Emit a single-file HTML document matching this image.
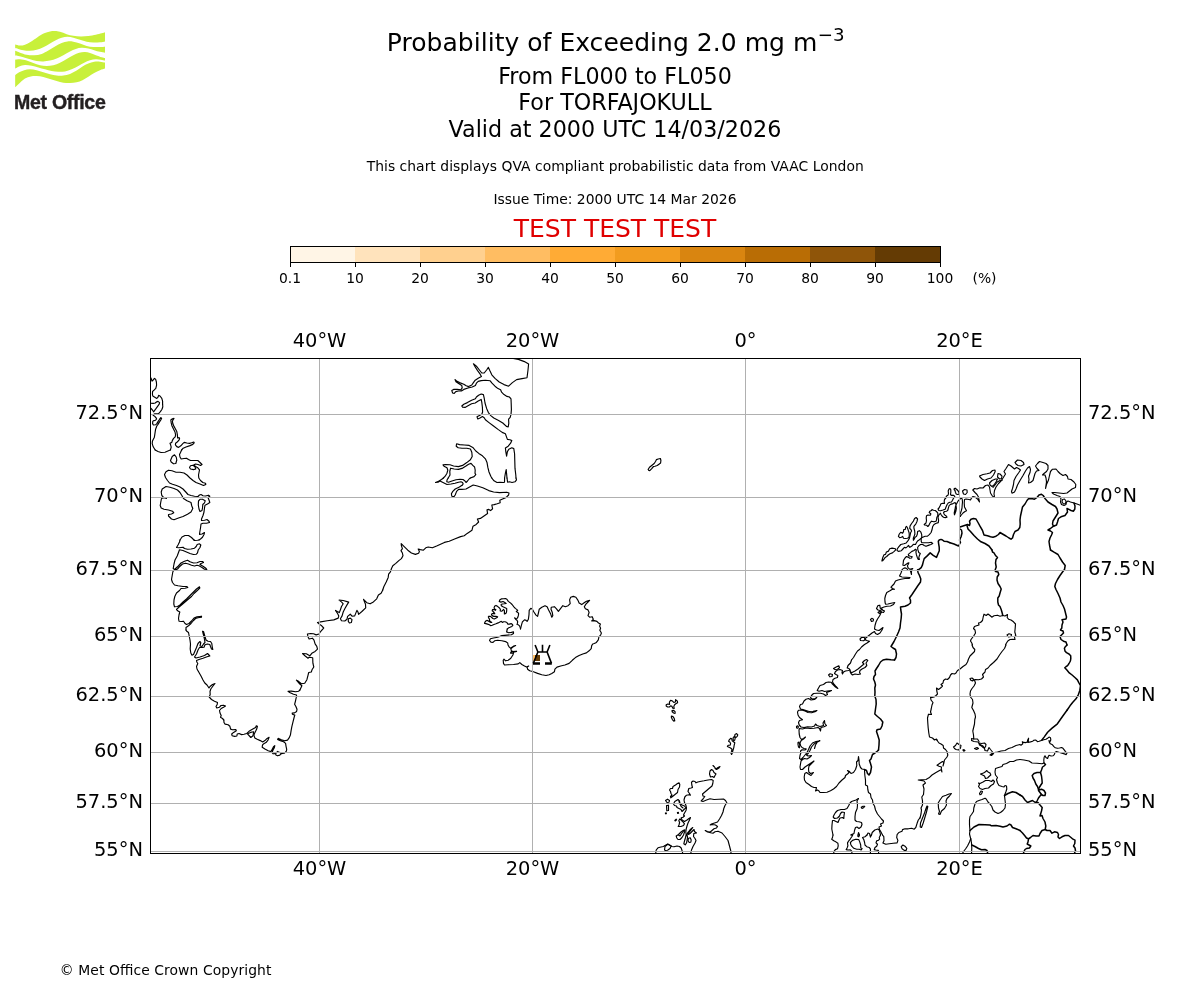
<!DOCTYPE html>
<html lang="en">
<head>
<meta charset="utf-8">
<title>Probability of Exceeding 2.0 mg m-3 - TORFAJOKULL</title>
<style>
html,body{margin:0;padding:0;background:#fff;}
body{width:1200px;height:1000px;overflow:hidden;position:relative;font-family:"DejaVu Sans","Liberation Sans",sans-serif;}
svg{position:absolute;left:0;top:0;display:block;}
text{font-family:"DejaVu Sans","Liberation Sans",sans-serif;fill:#000;}
.t18{font-size:25px;}
.t16{font-size:22.22px;}
.t10{font-size:13.89px;}
.t14{font-size:19.44px;}
.logo{font-family:"Liberation Sans","DejaVu Sans Condensed",sans-serif;font-weight:bold;fill:#231f20;}
.grid line{stroke:#b0b0b0;stroke-width:1;}
.coast path{fill:none;stroke:#000;stroke-width:1.15;stroke-linejoin:round;stroke-linecap:round;}
.coast path.b{stroke-width:1.5;}
</style>
</head>
<body>
<svg width="1200" height="1000" viewBox="0 0 1200 1000">
<rect width="1200" height="1000" fill="#fff"/>

<g fill="#c8f03a">
<path d="M15.17,44.50 C15.97,44.68 18.36,45.54 20.00,45.58 C21.64,45.62 23.19,45.38 25.00,44.75 C26.81,44.12 28.75,43.08 30.83,41.83 C32.92,40.58 35.28,38.67 37.50,37.25 C39.72,35.83 42.08,34.31 44.17,33.33 C46.25,32.36 48.19,31.81 50.00,31.42 C51.81,31.03 53.33,30.93 55.00,31.00 C56.67,31.07 58.06,31.31 60.00,31.83 C61.94,32.36 64.44,33.50 66.67,34.17 C68.89,34.83 70.97,35.46 73.33,35.83 C75.69,36.21 78.33,36.39 80.83,36.42 C83.33,36.44 85.83,36.28 88.33,36.00 C90.83,35.72 93.61,35.19 95.83,34.75 C98.06,34.31 100.14,33.75 101.67,33.33 C103.19,32.92 104.44,32.43 105.00,32.25 L105.00,41.42 C104.17,41.56 101.94,42.07 100.00,42.25 C98.06,42.43 95.56,42.60 93.33,42.50 C91.11,42.40 88.89,42.12 86.67,41.67 C84.44,41.21 82.22,40.42 80.00,39.75 C77.78,39.08 75.42,38.15 73.33,37.67 C71.25,37.18 69.44,36.83 67.50,36.83 C65.56,36.83 63.61,37.11 61.67,37.67 C59.72,38.22 57.78,39.19 55.83,40.17 C53.89,41.14 52.08,42.32 50.00,43.50 C47.92,44.68 45.56,46.21 43.33,47.25 C41.11,48.29 38.89,49.15 36.67,49.75 C34.44,50.35 32.22,50.76 30.00,50.83 C27.78,50.90 25.28,50.49 23.33,50.17 C21.39,49.85 19.69,49.26 18.33,48.92 C16.97,48.57 15.69,48.22 15.17,48.08 Z"/>
<path d="M15.17,50.83 C15.97,51.14 18.08,52.01 20.00,52.67 C21.92,53.32 24.31,54.31 26.67,54.75 C29.03,55.19 31.67,55.47 34.17,55.33 C36.67,55.19 39.31,54.71 41.67,53.92 C44.03,53.13 46.11,51.83 48.33,50.58 C50.56,49.33 52.78,47.67 55.00,46.42 C57.22,45.17 59.58,43.92 61.67,43.08 C63.75,42.25 65.56,41.65 67.50,41.42 C69.44,41.18 71.25,41.32 73.33,41.67 C75.42,42.01 77.78,42.78 80.00,43.50 C82.22,44.22 84.44,45.42 86.67,46.00 C88.89,46.58 91.11,46.83 93.33,47.00 C95.56,47.17 98.06,47.06 100.00,47.00 C101.94,46.94 104.17,46.72 105.00,46.67 L105.00,52.67 C104.17,52.53 101.81,52.25 100.00,51.83 C98.19,51.42 96.11,50.72 94.17,50.17 C92.22,49.61 90.42,48.89 88.33,48.50 C86.25,48.11 83.75,47.76 81.67,47.83 C79.58,47.90 77.78,48.32 75.83,48.92 C73.89,49.51 72.08,50.38 70.00,51.42 C67.92,52.46 65.56,53.99 63.33,55.17 C61.11,56.35 58.89,57.60 56.67,58.50 C54.44,59.40 52.22,60.10 50.00,60.58 C47.78,61.07 45.56,61.35 43.33,61.42 C41.11,61.49 38.89,61.35 36.67,61.00 C34.44,60.65 32.22,59.96 30.00,59.33 C27.78,58.71 25.28,57.81 23.33,57.25 C21.39,56.69 19.69,56.28 18.33,56.00 C16.97,55.72 15.69,55.65 15.17,55.58 Z"/>
<path d="M15.17,59.75 C15.97,59.68 18.08,59.19 20.00,59.33 C21.92,59.47 24.44,59.96 26.67,60.58 C28.89,61.21 31.11,62.32 33.33,63.08 C35.56,63.85 37.78,64.68 40.00,65.17 C42.22,65.65 44.44,66.00 46.67,66.00 C48.89,66.00 51.11,65.72 53.33,65.17 C55.56,64.61 57.78,63.71 60.00,62.67 C62.22,61.62 64.44,60.17 66.67,58.92 C68.89,57.67 71.25,56.21 73.33,55.17 C75.42,54.13 77.22,53.19 79.17,52.67 C81.11,52.14 83.19,51.93 85.00,52.00 C86.81,52.07 88.19,52.56 90.00,53.08 C91.81,53.61 93.89,54.47 95.83,55.17 C97.78,55.86 100.14,56.76 101.67,57.25 C103.19,57.74 104.44,57.94 105.00,58.08 L105.00,60.58 C104.31,60.44 102.36,59.96 100.83,59.75 C99.31,59.54 97.64,59.26 95.83,59.33 C94.03,59.40 91.94,59.61 90.00,60.17 C88.06,60.72 86.11,61.69 84.17,62.67 C82.22,63.64 80.42,64.89 78.33,66.00 C76.25,67.11 73.89,68.43 71.67,69.33 C69.44,70.24 67.22,71.00 65.00,71.42 C62.78,71.83 60.56,71.90 58.33,71.83 C56.11,71.76 53.89,71.42 51.67,71.00 C49.44,70.58 47.22,69.92 45.00,69.33 C42.78,68.75 40.56,68.08 38.33,67.50 C36.11,66.92 33.89,66.25 31.67,65.83 C29.44,65.42 27.08,64.90 25.00,65.00 C22.92,65.10 20.81,65.83 19.17,66.42 C17.53,67.00 15.83,68.15 15.17,68.50 Z"/>
<path d="M15.17,75.17 C15.83,74.68 17.67,73.08 19.17,72.25 C20.67,71.42 22.36,70.65 24.17,70.17 C25.97,69.68 27.92,69.33 30.00,69.33 C32.08,69.33 34.44,69.68 36.67,70.17 C38.89,70.65 41.11,71.56 43.33,72.25 C45.56,72.94 47.78,73.78 50.00,74.33 C52.22,74.89 54.44,75.38 56.67,75.58 C58.89,75.79 61.11,75.86 63.33,75.58 C65.56,75.31 67.78,74.75 70.00,73.92 C72.22,73.08 74.58,71.83 76.67,70.58 C78.75,69.33 80.56,67.60 82.50,66.42 C84.44,65.24 86.39,64.26 88.33,63.50 C90.28,62.74 92.22,62.14 94.17,61.83 C96.11,61.53 98.19,61.56 100.00,61.67 C101.81,61.78 104.17,62.36 105.00,62.50 L105.00,68.50 C104.17,68.78 101.81,69.40 100.00,70.17 C98.19,70.93 96.11,71.97 94.17,73.08 C92.22,74.19 90.28,75.65 88.33,76.83 C86.39,78.01 84.44,79.26 82.50,80.17 C80.56,81.07 78.75,81.76 76.67,82.25 C74.58,82.74 72.22,83.01 70.00,83.08 C67.78,83.15 65.56,83.01 63.33,82.67 C61.11,82.32 58.89,81.62 56.67,81.00 C54.44,80.38 52.22,79.58 50.00,78.92 C47.78,78.25 45.56,77.49 43.33,77.00 C41.11,76.51 38.75,76.10 36.67,76.00 C34.58,75.90 32.78,76.00 30.83,76.42 C28.89,76.83 26.81,77.46 25.00,78.50 C23.19,79.54 21.64,81.21 20.00,82.67 C18.36,84.12 15.97,86.49 15.17,87.25 Z"/>
</g>
<text class="logo" transform="translate(14,108.8) scale(0.95,1)" x="0" y="0" font-size="20.6" textLength="96.6" lengthAdjust="spacing" stroke="#231f20" stroke-width="0.45">Met Office</text>
<g text-anchor="middle">
<text class="t18" text-anchor="start" x="386.85" y="51" textLength="430.4" lengthAdjust="spacing">Probability of Exceeding 2.0 mg m</text>
<text text-anchor="start" x="817.8" y="41.2" font-size="18.2">−3</text>
<text class="t16" x="615" y="83.6">From FL000 to FL050</text>
<text class="t16" x="615" y="109.6">For TORFAJOKULL</text>
<text class="t16" x="615" y="136.6">Valid at 2000 UTC 14/03/2026</text>
<text class="t10" x="615.2" y="170.5" textLength="497" lengthAdjust="spacing">This chart displays QVA compliant probabilistic data from VAAC London</text>
<text class="t10" x="615" y="203.6">Issue Time: 2000 UTC 14 Mar 2026</text>
<text class="t18" x="615" y="237" style="fill:#e00000">TEST TEST TEST</text>
</g>

<g shape-rendering="crispEdges">
<rect x="290.00" y="246.5" width="65.00" height="16.0" fill="#fff5e6"/>
<rect x="355.00" y="246.5" width="65.00" height="16.0" fill="#ffe3bc"/>
<rect x="420.00" y="246.5" width="65.00" height="16.0" fill="#ffd08f"/>
<rect x="485.00" y="246.5" width="65.00" height="16.0" fill="#ffbd62"/>
<rect x="550.00" y="246.5" width="65.00" height="16.0" fill="#ffab35"/>
<rect x="615.00" y="246.5" width="65.00" height="16.0" fill="#f29c1f"/>
<rect x="680.00" y="246.5" width="65.00" height="16.0" fill="#d98510"/>
<rect x="745.00" y="246.5" width="65.00" height="16.0" fill="#b96d05"/>
<rect x="810.00" y="246.5" width="65.00" height="16.0" fill="#8f5509"/>
<rect x="875.00" y="246.5" width="65.00" height="16.0" fill="#643b04"/>
</g>
<rect x="290.5" y="246.5" width="650.0" height="16.0" fill="none" stroke="#000" stroke-width="1"/>
<g text-anchor="middle" class="t10">
<line x1="290.50" y1="262.5" x2="290.50" y2="267.0" stroke="#000" stroke-width="1"/>
<text class="t10" x="290.00" y="283">0.1</text>
<line x1="355.50" y1="262.5" x2="355.50" y2="267.0" stroke="#000" stroke-width="1"/>
<text class="t10" x="355.00" y="283">10</text>
<line x1="420.50" y1="262.5" x2="420.50" y2="267.0" stroke="#000" stroke-width="1"/>
<text class="t10" x="420.00" y="283">20</text>
<line x1="485.50" y1="262.5" x2="485.50" y2="267.0" stroke="#000" stroke-width="1"/>
<text class="t10" x="485.00" y="283">30</text>
<line x1="550.50" y1="262.5" x2="550.50" y2="267.0" stroke="#000" stroke-width="1"/>
<text class="t10" x="550.00" y="283">40</text>
<line x1="615.50" y1="262.5" x2="615.50" y2="267.0" stroke="#000" stroke-width="1"/>
<text class="t10" x="615.00" y="283">50</text>
<line x1="680.50" y1="262.5" x2="680.50" y2="267.0" stroke="#000" stroke-width="1"/>
<text class="t10" x="680.00" y="283">60</text>
<line x1="745.50" y1="262.5" x2="745.50" y2="267.0" stroke="#000" stroke-width="1"/>
<text class="t10" x="745.00" y="283">70</text>
<line x1="810.50" y1="262.5" x2="810.50" y2="267.0" stroke="#000" stroke-width="1"/>
<text class="t10" x="810.00" y="283">80</text>
<line x1="875.50" y1="262.5" x2="875.50" y2="267.0" stroke="#000" stroke-width="1"/>
<text class="t10" x="875.00" y="283">90</text>
<line x1="940.50" y1="262.5" x2="940.50" y2="267.0" stroke="#000" stroke-width="1"/>
<text class="t10" x="940.00" y="283">100</text>
<text class="t10" x="984.5" y="283">(%)</text>
</g>
<clipPath id="mc"><rect x="150.5" y="358.5" width="930.0" height="495.0"/></clipPath>
<g shape-rendering="crispEdges">
<rect x="533" y="655" width="2" height="6" fill="#ffbd62"/>
<rect x="535" y="655" width="5" height="6" fill="#643b04"/>
</g>

<g class="coast" clip-path="url(#mc)">
<path d="M150.0,377.6 L151.0,378.0 L152.0,381.2 L153.2,380.0 L154.4,378.4 L155.6,379.2 L156.4,382.0 L156.6,385.2 L155.8,388.4 L154.0,390.2 L152.6,391.4 L152.4,394.0 L152.8,396.0 L154.8,397.2 L156.8,398.4 L158.0,397.2 L158.6,395.4 L160.0,396.0 L161.8,398.4 L162.6,401.2 L162.6,404.4 L162.8,406.8 L162.0,409.2 L160.4,411.6 L158.6,413.6 L156.8,413.8 L154.4,413.8 L153.2,415.2 L154.8,416.4 L156.2,418.0 L156.6,419.0 L155.6,420.2 L154.0,420.6 L152.8,421.2 L152.6,423.6 L153.4,425.0 L155.6,424.8 L156.8,423.6 L158.0,421.6 L159.6,419.2 L160.8,417.6 L161.6,418.2 L160.8,420.0 L159.2,422.4 L158.0,424.4 L156.8,426.0 L155.6,429.2 L155.0,433.2 L154.4,437.2 L153.2,439.6 L152.4,441.2 L152.2,443.6 L153.2,446.8 L155.2,450.0"/>
<path d="M150.0,403.1 L151.0,403.2 L153.2,403.4 L155.2,403.0 L156.8,401.8 L158.0,401.4 L159.6,402.6 L159.2,404.2 L157.6,406.4 L155.6,409.2 L153.6,411.8 L152.4,410.0 L151.0,408.4 L150.0,408.2"/>
<path d="M181.6,450.0 L183.2,448.2 L186.0,447.0 L190.0,445.6 L192.8,444.4 L194.2,442.8 L193.8,442.0 L191.6,442.8 L189.6,443.4 L186.8,443.0 L184.2,442.4 L182.8,443.6 L180.8,445.8 L178.6,447.4 L176.8,446.6 L175.4,444.8 L175.6,443.2 L177.2,442.0 L178.8,440.4 L179.6,438.8 L179.2,437.6 L177.6,438.0 L177.4,434.8 L176.8,431.6 L175.6,429.2 L174.0,426.4 L172.8,423.6 L172.4,421.2 L173.2,419.6 L174.0,418.4 L172.4,418.8 L170.8,420.0 L171.2,422.8 L172.0,426.0 L173.6,429.2 L175.0,432.0 L175.6,434.8 L175.2,436.8 L173.6,438.4 L172.4,440.4 L171.8,442.4 L170.0,443.2 L170.6,444.8 L171.2,447.2 L170.4,450.0"/>
<path d="M170.4,450.0 L168.5,450.8 L165.0,452.2 L161.0,452.5 L158.0,451.5 L155.2,450.0"/>
<path d="M181.6,450.0 L180.5,452.5 L179.5,454.5 L180.0,457.0 L181.2,459.0 L184.0,458.5 L186.5,458.2 L188.5,459.5 L190.5,460.5 L194.0,460.5 L197.8,460.5 L200.0,462.5 L202.0,464.5 L200.5,465.5 L198.0,464.5 L195.5,464.0 L193.8,465.0 L195.5,466.5 L197.8,467.8 L199.5,469.8 L199.0,472.5 L198.5,475.0 L198.8,478.0 L200.5,480.5 L202.8,482.5 L205.5,483.2 L205.8,484.5 L203.5,485.5 L200.0,484.0 L196.0,482.5 L193.0,480.5 L190.0,478.0 L187.0,475.0 L184.0,473.0 L180.0,472.2 L176.0,472.2 L172.0,470.8 L168.5,470.2 L166.0,471.8 L164.5,474.5 L165.5,477.5 L167.5,480.5 L169.5,483.0 L172.5,484.2 L176.5,485.5 L180.0,487.0 L183.0,489.0 L185.8,492.0 L188.0,494.5 L191.0,495.5 L194.5,496.2 L198.0,496.5 L199.5,495.0 L201.0,494.5 L203.0,495.8 L205.5,496.0 L208.5,495.2 L209.8,496.2 L208.0,497.5 L209.0,500.0 L209.8,502.5 L207.5,504.0 L205.0,505.2 L204.5,508.0 L204.0,512.0 L203.0,515.5 L201.5,519.0 L201.5,520.5 L204.5,520.2 L207.0,519.5 L209.0,521.2 L209.5,522.5 L206.5,523.2 L203.0,523.2 L201.0,524.0 L200.5,528.0 L199.8,532.0 L199.5,534.5 L202.0,534.0 L204.5,532.5 L204.0,534.5 L202.5,537.2 L200.5,539.0 L199.0,540.0"/>
<path d="M190.5,465.8 L193.0,465.2 L195.0,466.8 L195.8,469.0 L193.5,469.6 L190.5,469.0 L189.5,467.5Z"/>
<path d="M170.5,460.5 L172.2,456.5 L174.5,454.8 L176.2,457.0 L176.8,460.0 L175.8,463.5 L173.5,463.8 L171.2,462.0Z"/>
<path d="M198.5,501.0 L200.0,499.3 L202.5,499.2 L205.2,500.8 L204.5,502.8 L202.8,504.5 L202.5,508.0 L202.0,510.5 L200.0,511.5 L199.0,509.0 L198.3,505.0Z"/>
<path d="M166.5,498.5 L164.0,497.8 L161.8,495.5 L161.2,492.0 L162.2,489.0 L166.0,486.5 L170.0,487.2 L174.0,488.5 L177.5,490.0 L180.0,492.5 L182.0,495.8 L183.5,498.5 L187.0,500.8 L191.0,502.5 L191.8,506.0 L192.8,508.5 L191.0,512.0 L187.5,514.2 L183.0,516.5 L178.5,518.0 L174.0,519.7 L171.5,519.0 L168.5,516.0 L168.5,514.5 L171.5,514.0 L173.8,512.8 L172.5,511.2 L168.5,510.0 L164.0,509.3 L161.2,508.0 L160.2,505.5 L160.8,502.0 L161.5,498.5 L164.0,497.8"/>
<path d="M180.0,540.0 L182.0,537.0 L185.0,535.5 L188.5,535.5 L191.5,537.5 L194.0,540.0"/>
<path d="M199.0,540.0 L197.5,540.2 L194.5,540.5 L194.0,540.0"/>
<path d="M180.0,540.0 L179.5,542.0 L178.0,545.0 L176.5,547.5 L179.0,547.8 L183.0,547.2 L184.5,548.5 L187.5,549.2 L191.0,549.0 L194.5,548.2 L196.2,546.5 L197.2,544.5 L199.5,543.8 L200.8,545.0 L200.0,547.5 L198.2,550.0 L197.5,552.8 L196.2,554.3 L193.5,554.5 L190.0,553.5 L186.5,552.0 L183.0,550.5 L179.5,549.8 L178.5,552.5 L177.2,556.0 L175.0,560.0 L174.0,564.0 L173.2,568.5 L174.5,569.5 L177.5,566.8 L181.0,563.0 L184.5,561.2 L187.5,560.2 L190.0,561.8 L193.5,563.0 L197.0,562.8 L200.0,561.5 L202.5,561.5 L203.5,562.5 L201.0,563.5 L200.0,564.5 L203.0,566.2 L205.5,568.0 L206.8,569.5 L204.5,569.2 L202.0,567.5 L199.0,565.8 L197.0,565.2 L194.5,566.0 L191.5,565.2 L188.5,564.0 L185.5,563.2 L182.5,564.0 L180.0,566.2 L177.5,569.0 L175.5,570.0 L173.5,570.5 L172.8,572.0 L172.2,575.5 L171.5,579.5 L172.5,582.5 L174.5,585.0 L178.0,585.8 L183.0,586.5 L187.0,586.5 L187.8,587.5 L185.0,588.2 L181.0,588.5 L179.5,590.5 L176.5,593.0 L174.8,596.5 L174.0,600.0 L173.8,604.0 L174.5,606.8 L177.5,606.5 L180.0,605.0 L183.0,602.0 L186.5,599.0 L190.0,595.5 L193.0,592.5 L196.5,589.0 L199.5,586.8 L199.8,588.0 L197.0,590.8 L194.0,593.5 L191.5,596.5 L188.5,599.0 L185.0,602.0 L181.5,605.0 L178.5,607.5 L176.5,609.5 L178.0,611.0 L179.8,612.0 L179.0,615.0 L178.5,618.5 L179.0,621.2 L181.5,621.5 L183.5,621.2 L185.0,623.5 L186.5,624.5 L189.0,623.5 L191.5,621.0 L194.0,618.0 L197.0,616.8 L201.5,616.2 L201.5,617.2 L198.0,617.8 L195.5,618.5 L193.5,620.5 L191.0,623.5 L188.5,625.8 L186.0,627.5 L186.0,630.0"/>
<path d="M186.0,630.0 L186.5,631.0 L188.5,632.5 L189.2,636.0 L190.0,640.0 L190.5,644.0 L190.2,649.0 L190.8,653.0 L192.0,655.2 L193.5,654.5 L195.0,651.0 L196.5,647.5 L198.0,643.5 L200.0,641.5 L200.8,642.5 L200.0,646.0 L202.0,646.5 L203.5,644.0 L205.0,642.5 L204.5,639.5 L203.5,635.0 L202.5,631.2 L203.5,631.5 L204.8,636.0 L206.0,640.0 L208.0,641.2 L210.5,641.5 L211.8,643.5 L212.2,646.5 L212.8,649.5 L211.5,649.0 L210.5,646.5 L209.8,644.5 L207.5,644.0 L205.0,644.8 L204.0,647.2 L202.0,647.5 L199.5,647.5 L198.0,650.0 L196.5,654.0 L194.5,657.0 L196.0,658.0 L200.0,657.0 L204.5,655.5 L207.5,653.5 L208.5,654.5 L209.8,656.0 L207.0,656.8 L203.0,658.2 L199.0,659.5 L196.5,660.5 L196.8,662.0 L197.8,663.5 L196.5,666.5 L197.0,669.0 L199.0,672.5 L201.0,676.0 L203.0,680.0 L204.8,683.0 L207.0,685.0 L209.0,688.0 L210.0,686.5 L212.5,684.5 L215.0,683.5 L213.0,686.0 L210.8,689.0 L210.0,691.5 L210.2,694.5 L209.2,697.0 L211.5,699.5 L214.5,701.2 L217.5,702.5 L217.2,704.5 L216.0,706.5 L216.8,708.0 L219.5,707.2 L221.0,705.5 L223.5,705.2 L225.5,706.0 L223.5,707.2 L221.2,708.5 L219.5,710.5 L220.0,713.0 L221.2,715.5 L220.5,717.2 L222.5,718.5 L223.8,720.0"/>
<path d="M223.8,720.0 L224.0,722.5 L225.1,724.1 L228.1,724.7 L229.9,726.3 L230.6,729.1 L232.5,729.8 L235.8,729.6 L236.3,730.7 L233.6,732.4 L231.7,734.0 L232.1,735.7 L234.7,736.4 L236.9,736.0 L237.2,734.0 L239.1,733.5 L241.6,734.6 L244.0,734.2 L246.8,733.5 L249.0,731.3 L252.8,729.1 L255.6,727.4 L256.3,725.8 L257.4,726.3 L256.7,729.1 L255.0,732.4 L253.9,735.1 L254.8,737.9 L257.2,739.3 L260.3,740.6 L262.7,741.9 L264.9,740.6 L267.1,738.4 L269.1,737.3 L268.0,740.1 L266.0,742.6 L263.8,743.7 L262.5,745.0 L262.2,747.2 L264.9,748.9 L268.2,750.7 L271.0,751.6 L272.1,749.4 L273.5,746.7 L274.8,745.6 L274.3,747.8 L272.8,750.5 L272.1,752.7 L273.2,753.8 L275.4,753.6 L275.9,754.9 L277.6,755.8 L279.8,755.1 L281.2,753.6 L284.2,753.3 L286.4,751.1 L286.7,749.4 L286.0,746.1 L285.6,743.4 L283.6,741.7 L280.3,740.6 L277.6,739.5 L278.1,738.4 L281.4,739.7 L284.7,740.8 L287.5,740.1 L289.1,737.9 L290.4,735.1 L291.1,730.7 L291.9,726.3 L293.0,721.9 L294.1,717.5 L294.8,715.1 L292.4,714.2 L292.2,713.1 L294.6,712.9 L296.6,711.5 L297.0,709.3 L295.9,706.5 L294.6,704.3 L295.5,701.0 L296.3,697.2 L296.6,695.0 L293.5,694.2 L289.7,692.4 L288.0,691.3 L291.3,691.1 L295.7,691.7 L298.5,691.3 L299.9,690.0"/>
<path d="M247.5,733.8 L250.8,737.5 L253.0,735.7 L253.7,731.8 L250.6,732.4Z"/>
<path d="M275.9,753.3 L277.6,751.4 L280.3,752.7 L281.2,753.6"/>
<path d="M299.9,690.0 L301.9,685.7 L299.2,683.5 L296.4,680.2 L297.7,680.8 L301.4,683.7 L304.7,683.3 L306.9,679.7 L308.0,675.3 L308.7,672.5 L311.3,672.0 L312.0,669.8 L313.8,667.0 L312.9,663.2 L312.7,657.7 L309.1,657.3 L308.0,658.2 L305.2,656.0 L302.5,653.6 L306.3,653.8 L309.8,655.8 L311.8,653.3 L315.1,651.4 L317.5,649.2 L316.8,646.3 L315.1,643.9 L314.0,640.1 L312.4,638.2 L309.1,639.0 L308.0,636.8 L307.4,634.0 L310.7,633.5 L313.5,633.8 L316.2,634.9 L319.0,634.0 L320.8,631.3 L323.7,628.0 L321.7,625.8 L319.3,624.1 L317.5,622.5 L320.6,621.9 L327.2,620.8 L333.8,619.9 L338.2,618.1 L338.8,615.9 L337.7,613.7 L335.5,610.4 L337.3,611.5 L339.3,612.6 L340.4,609.8 L341.5,606.5 L343.2,603.8 L341.7,602.1 L339.1,600.1 L343.2,600.5 L348.7,602.1 L347.0,604.9 L344.8,608.7 L343.2,612.0 L342.1,615.9 L340.4,618.8 L341.5,620.8 L344.8,621.0 L347.0,619.2 L347.6,616.4 L350.3,614.2 L352.0,616.2 L354.7,615.9 L355.8,613.1 L356.9,610.4 L358.0,612.0 L358.6,614.4 L361.9,611.5 L365.7,607.8 L365.5,604.3 L363.5,599.4 L366.8,602.7 L370.1,603.8 L373.4,601.9 L376.7,598.8 L378.4,595.0 L381.1,593.3 L382.8,590.0"/>
<path d="M348.3,618.8 L350.3,618.1 L352.0,619.7 L351.4,622.5 L349.4,623.0 L348.3,621.4Z"/>
<path d="M382.7,590.0 L383.8,586.8 L386.2,582.0 L388.2,577.4 L388.6,574.2 L390.4,571.8 L391.6,568.2 L392.8,565.8 L395.8,563.4 L398.8,560.6 L401.4,558.6 L403.0,555.8 L402.4,553.0 L401.0,550.6 L402.4,548.6 L401.4,545.8 L401.2,543.6 L404.2,546.6 L407.8,550.2 L411.4,553.0 L415.4,554.4 L418.6,553.2 L419.4,551.4 L418.2,549.0 L420.4,549.6 L423.4,550.2 L425.8,547.8 L428.2,547.0 L432.4,547.8 L437.2,545.8 L444.4,542.4 L449.2,541.2 L455.2,538.8 L460.6,536.6 L464.2,535.8 L467.2,533.4 L472.0,530.2 L473.0,526.2 L476.2,524.4 L478.6,522.0 L477.4,519.0 L480.4,518.4 L484.0,516.0 L487.6,513.6 L487.0,509.8 L488.8,509.4 L490.6,510.6 L492.6,508.8 L491.8,505.0 L494.2,504.6 L497.2,503.8 L500.2,502.8 L499.8,500.2 L502.6,499.0 L506.2,497.4 L508.6,495.0 L509.0,493.0 L506.8,492.2 L499.6,492.6 L493.6,492.0 L488.8,490.6 L482.8,487.8 L477.4,486.0 L473.2,485.0 L469.6,487.0 L466.0,489.0 L461.8,489.4 L458.6,489.4 L456.6,491.4 L455.2,495.0 L454.0,496.6 L451.8,496.2 L451.4,493.8 L452.8,491.4 L455.2,489.0 L459.4,487.0 L462.4,485.0"/>
<path d="M510.6,358.0 L518.4,359.4 L524.4,361.6 L528.6,364.0 L528.0,370.0 L527.0,377.8 L522.0,378.6 L516.6,379.6 L512.4,382.6 L508.6,386.2 L504.0,384.6 L499.2,382.0 L495.0,378.4 L491.8,374.8 L489.8,370.6 L488.4,367.4 L486.6,370.0 L484.2,373.0 L481.8,373.0 L479.4,370.0 L476.4,366.2 L473.4,363.8 L475.2,367.0 L477.6,370.6 L479.8,373.6 L481.4,376.6 L478.2,378.2 L475.2,380.2 L473.4,382.6 L471.8,385.0 L468.6,386.6 L466.2,385.8 L463.8,384.2 L459.6,382.6 L456.6,381.0 L455.0,379.6 L456.0,381.8 L459.0,383.8 L461.8,385.6 L462.2,387.8 L460.8,389.8 L457.2,389.4 L453.6,389.4 L451.8,390.6 L452.6,393.0 L454.2,393.4 L455.8,391.6 L458.4,391.0 L461.4,391.0 L463.8,389.4 L468.0,388.0 L472.2,387.0 L475.4,385.4 L476.4,383.2 L478.2,381.4 L481.2,380.6 L485.4,380.2 L490.2,380.8 L492.0,383.2 L495.0,386.2 L498.0,388.6 L500.6,389.8 L501.6,392.2 L504.0,394.6 L507.0,396.4 L509.4,397.0 L511.0,398.8 L511.2,403.6 L511.4,409.6 L511.0,414.4 L510.2,417.4 L508.6,419.2 L508.8,423.4 L508.2,427.0 L506.4,426.4 L502.8,423.0 L498.6,420.4 L493.8,418.0 L490.8,415.6 L488.4,412.6 L486.6,408.4 L485.0,403.0 L484.2,398.2 L483.4,394.6 L481.2,394.0 L478.6,395.2 L476.4,397.0 L475.4,398.8 L471.6,400.2 L467.4,402.6 L463.8,404.2 L461.8,406.0 L462.6,407.2 L465.0,407.4 L468.0,405.8 L471.6,403.8 L475.2,403.0 L478.2,401.0 L481.2,399.4 L481.8,402.4 L482.4,407.2 L482.6,412.0 L481.8,414.2 L479.4,415.4 L477.0,416.8 L477.8,419.0 L480.0,418.0 L482.4,416.6 L484.2,417.8 L485.4,419.8 L489.0,422.6 L493.2,425.8 L498.0,429.4 L502.2,432.4 L505.4,433.8 L506.4,436.6 L507.4,439.4 L510.0,439.8 L511.8,440.6 L510.6,443.2 L508.2,446.2 L505.4,448.0 L505.8,451.6 L506.6,456.2 L507.4,451.6 L508.8,449.2 L511.8,447.8 L513.8,448.6 L514.6,454.0 L514.8,461.2 L515.0,468.4 L515.8,475.0 L516.0,478.0"/>
<path d="M491.8,478.0 L490.8,476.2 L489.0,472.0 L487.8,467.2 L487.0,462.4 L485.4,458.8 L482.4,455.8 L478.8,453.4 L475.8,451.0 L472.8,447.4 L469.2,445.4 L464.4,445.0 L459.6,444.6 L456.6,443.8 L456.2,446.2 L458.2,447.8 L462.0,448.2 L466.8,448.2 L470.4,449.0 L471.8,452.2 L472.2,456.4 L470.4,459.8 L466.8,462.6 L462.6,465.4 L458.4,466.6 L453.6,466.0 L450.0,464.8 L445.8,464.6 L443.0,464.8 L444.0,466.2 L447.0,467.8 L447.8,470.2 L447.0,473.2 L445.2,476.2 L443.4,478.0"/>
<path d="M448.2,478.0 L450.0,475.0 L449.8,471.4 L450.6,468.2 L454.2,469.0 L458.4,469.4 L462.0,468.4 L465.6,466.2 L468.6,464.2 L471.0,463.4 L472.8,465.4 L474.6,467.0 L475.2,470.2 L475.0,473.2 L475.8,474.6 L474.0,476.6 L470.4,478.0"/>
<path d="M504.6,478.0 L505.4,473.2 L506.2,469.6 L506.6,473.8 L507.0,478.0"/>
<path d="M491.8,478.0 L494.0,480.8 L497.0,482.5 L500.0,482.2 L503.5,482.5 L504.5,482.2 L504.6,478.0"/>
<path d="M507.0,478.0 L507.6,482.2 L509.5,481.8 L512.0,482.5 L515.0,481.8 L516.5,479.8 L516.0,478.0"/>
<path d="M462.4,485.0 L463.2,484.0 L462.5,482.5 L461.0,481.8 L458.5,482.2 L455.0,483.2 L451.0,484.0 L447.0,484.5 L443.0,482.5 L440.0,481.0 L438.0,482.2 L435.5,482.5 L438.5,481.2 L441.5,479.5 L443.4,478.0"/>
<path d="M448.2,478.0 L447.0,480.0 L446.8,481.8 L448.5,482.2 L452.0,481.0 L456.0,479.8 L460.0,479.2 L463.0,479.5 L465.0,481.0 L466.0,482.5 L467.5,481.0 L469.5,478.5 L470.4,478.0"/>
<path d="M520.5,629.0 L521.3,625.6 L522.4,621.9 L524.5,619.8 L526.1,620.4 L527.1,621.4 L528.4,619.3 L529.0,614.6 L529.2,610.4 L530.8,608.3 L532.4,609.3 L533.9,612.0 L536.0,615.1 L537.6,616.4 L538.4,613.0 L539.2,609.3 L541.8,607.2 L545.0,605.7 L547.1,606.7 L548.6,609.9 L550.7,614.1 L551.8,617.2 L552.8,615.6 L552.3,612.5 L551.0,609.3 L551.3,607.2 L554.4,606.7 L556.5,608.8 L558.4,611.4 L560.7,608.3 L562.8,605.7 L565.4,606.7 L568.1,605.7 L570.2,603.6 L569.6,599.9 L570.7,597.3 L573.3,596.4 L575.9,597.3 L578.0,600.4 L579.1,603.0 L581.7,604.6 L583.8,603.0 L586.4,601.2 L589.6,600.4 L588.0,602.0 L585.9,604.1 L584.3,606.7 L585.4,608.8 L588.0,609.9 L589.1,612.5 L588.0,615.6 L589.6,617.2 L592.2,616.7 L593.3,619.3 L591.7,620.9 L594.3,620.6 L596.9,621.4 L598.5,623.0 L600.4,624.0 L599.6,626.1 L600.6,628.2 L599.8,630.3 L601.4,633.0 L600.6,635.1 L599.0,636.6 L598.3,639.8 L596.4,642.4 L594.3,643.5 L592.7,644.0 L591.7,645.6 L591.2,648.7 L589.1,650.8 L586.4,652.9 L582.8,654.0 L579.1,655.5 L575.4,657.6 L572.3,660.3 L569.1,663.4 L564.9,665.0 L560.7,666.0 L557.0,667.1 L554.9,669.2 L554.4,671.8 L551.8,673.4 L549.2,674.7 L546.0,675.5 L541.8,674.7 L537.6,673.4 L533.4,671.8 L529.7,670.8 L527.6,669.2 L527.1,667.1 L528.7,666.0 L526.6,667.1 L524.5,666.0 L521.9,664.5 L519.8,662.6 L518.2,663.9 L513.5,664.5 L508.2,664.7 L504.5,665.0 L503.5,663.4 L503.2,660.3 L504.0,659.2 L505.6,660.8 L508.2,660.3 L510.8,658.2 L512.9,655.0 L513.5,653.1 L510.5,653.1 L511.4,651.6 L516.6,651.4 L513.5,652.1 L511.4,650.8 L510.8,648.7 L512.9,647.1 L515.6,645.6 L513.5,646.1 L510.5,648.2 L509.3,647.1 L508.0,645.0 L507.7,642.9 L505.6,641.6 L501.9,640.8 L497.7,640.3 L494.6,640.8 L493.0,642.4 L490.9,642.2 L489.5,640.5 L490.4,638.7 L493.5,638.0 L497.7,637.2 L501.9,635.6 L507.2,635.1 L511.4,634.8 L513.5,633.5 L513.5,631.7 L511.4,632.4 L508.7,632.7 L506.6,631.9 L507.3,629.0"/>
<path d="M648.1,469.5 L649.5,467.2 L652.0,465.2 L654.2,463.5 L655.5,461.5 L656.5,459.6 L658.2,459.0 L660.4,458.5 L660.9,460.5 L660.6,463.0 L659.0,464.2 L657.2,465.5 L655.0,466.2 L653.5,466.5 L651.5,468.8 L649.8,470.6 L648.8,470.4Z"/>
<path d="M666.2,704.8 L667.8,704.0 L669.6,704.4 L669.4,702.0 L670.6,700.4 L672.2,700.8 L673.8,702.4 L675.4,702.0 L675.6,699.6 L677.4,701.2 L677.6,702.8 L675.8,703.8 L674.6,704.8 L673.8,706.4 L674.2,708.4 L672.8,708.2 L672.0,706.4 L670.6,705.8 L669.4,707.0 L667.6,707.0 L666.2,706.0Z"/>
<path d="M672.0,710.6 L673.8,710.4 L675.2,711.8 L675.0,713.4 L673.6,713.0 L672.2,711.8Z"/>
<path d="M671.4,716.0 L673.0,716.6 L674.2,718.4 L674.8,720.8 L673.8,721.2 L672.4,719.6 L671.4,717.6Z"/>
<path d="M735.0,734.4 L736.6,733.6 L737.8,734.8 L737.2,736.4 L735.8,737.6 L734.6,736.8Z"/>
<path d="M733.4,737.2 L734.6,736.4 L735.2,738.0 L734.8,740.0 L733.8,740.8 L733.0,739.2Z"/>
<path d="M730.6,738.4 L731.8,738.8 L732.2,740.8 L733.8,742.0 L734.8,742.8 L734.2,745.2 L733.8,747.6 L733.0,750.4 L732.2,753.2 L731.6,754.4 L731.0,753.2 L731.6,751.2 L732.0,749.2 L730.6,748.0 L729.0,747.2 L727.4,746.4 L728.2,745.2 L730.2,745.2 L730.6,743.6 L729.8,742.0 L728.6,741.2 L729.4,739.6Z"/>
<path d="M684.5,802.5 L684.0,800.0 L684.8,797.0 L686.5,795.2 L689.0,794.8 L690.5,795.2 L689.5,793.5 L688.0,791.5 L688.8,788.5 L691.0,788.0 L692.5,787.5 L691.8,785.0 L691.5,782.2 L693.0,781.0 L695.0,781.5 L696.0,782.8 L697.8,782.0 L700.0,781.5 L704.0,780.8 L708.0,780.0 L711.5,779.5 L713.2,780.5 L712.8,783.5 L712.0,786.0 L709.0,788.5 L705.5,791.5 L702.5,794.0 L703.0,796.0 L704.8,796.5 L703.0,799.0 L701.2,801.0 L703.0,801.5 L706.5,800.0 L710.0,798.8 L714.0,799.5 L719.0,799.2 L723.5,799.0 L725.5,800.5 L726.8,802.8 L725.0,805.5 L723.8,808.5 L723.0,812.0 L721.5,815.5 L719.5,819.0 L717.5,822.0 L714.5,823.0 L711.5,824.0 L710.2,825.0 L713.0,824.5 L715.5,825.0 L717.5,826.5 L716.5,828.0 L714.0,828.8 L712.0,830.5 L710.2,832.0 L707.5,831.5 L705.2,830.5 L707.5,832.0 L710.5,832.8 L713.0,833.2 L715.0,831.8 L718.0,831.2 L722.0,833.0 L725.0,836.5 L728.0,840.5 L729.5,846.0 L730.8,851.0 L731.2,854.5"/>
<path d="M684.5,802.5 L685.8,805.0 L686.5,808.0 L686.0,810.5 L684.5,813.0 L683.5,815.0 L684.5,816.0 L683.0,817.2 L681.2,817.8 L682.0,820.0 L684.5,821.5 L687.0,820.0 L689.0,818.5 L690.5,817.5 L689.5,820.0 L688.0,823.0 L687.0,826.0 L686.2,829.0 L685.8,832.0 L686.2,834.5 L685.5,837.5 L684.5,841.0 L683.8,843.8 L685.2,844.8 L686.5,843.0 L687.2,840.0 L687.5,837.0 L687.0,835.0 L687.8,832.5 L689.5,830.5 L691.5,828.5 L692.8,827.5 L691.0,830.0 L689.0,832.5 L688.5,834.5 L690.0,833.5 L692.0,831.5 L694.0,829.5 L694.5,831.5 L696.5,833.0 L693.8,833.5 L693.5,836.5 L695.0,838.5 L696.0,840.5 L695.0,843.0 L693.0,846.5 L691.5,850.0 L690.5,854.5"/>
<path d="M679.0,782.8 L679.8,784.5 L679.5,787.0 L678.0,789.5 L677.5,792.5 L675.0,794.5 L672.5,796.5 L670.8,797.8 L670.5,796.5 L672.0,795.0 L671.0,793.5 L670.5,791.5 L669.5,790.0 L670.5,788.5 L672.5,788.5 L673.0,786.5 L675.5,785.0 L677.5,783.5Z"/>
<path d="M665.5,800.5 L667.5,799.2 L669.5,800.5 L669.0,802.2 L667.0,802.5Z"/>
<path d="M666.5,805.5 L668.5,805.2 L668.5,810.5 L666.8,810.8Z"/>
<path d="M665.4,813.0 L666.2,812.8 L666.4,813.6 L665.6,813.8Z"/>
<path d="M677.4,812.5 L678.4,812.3 L678.6,813.3 L677.6,813.5Z"/>
<path d="M674.8,820.5 L676.2,819.2 L676.6,819.8 L675.2,821.0Z"/>
<path d="M673.5,804.0 L674.8,801.5 L678.0,799.5 L679.5,801.0 L680.0,803.5 L682.0,805.0 L684.5,806.0 L686.0,808.0 L684.5,809.0 L683.0,810.5 L682.0,811.5 L681.0,809.5 L679.0,808.5 L677.0,807.5 L676.5,806.0 L674.5,805.5Z"/>
<path d="M679.0,801.5 L680.0,804.0 L681.2,806.5 L683.0,808.0"/>
<path d="M680.0,818.8 L678.8,820.5 L679.6,822.5 L679.0,825.0 L678.2,826.5 L681.0,826.5 L683.5,825.5 L684.5,823.8 L683.2,822.2 L681.8,820.8Z"/>
<path d="M676.2,836.0 L678.5,834.5 L681.0,832.0 L683.5,830.2 L685.0,829.8 L684.5,832.0 L683.5,835.0 L682.0,837.5 L680.0,839.5 L678.0,839.5 L676.8,838.0Z"/>
<path d="M678.5,835.0 L680.0,836.0 L682.0,833.0 L684.0,830.5"/>
<path d="M688.5,838.2 L690.2,837.8 L691.2,840.0 L690.8,842.2 L689.2,842.5 L688.0,840.5Z"/>
<path d="M655.5,854.5 L656.2,850.0 L658.0,847.8 L661.0,847.0 L663.5,846.5 L665.0,845.5 L667.8,844.0 L670.0,845.2 L671.8,846.5 L674.0,846.8 L677.0,846.0 L679.5,846.5 L681.2,848.0 L682.0,850.5 L683.0,854.5"/>
<path d="M664.5,850.0 L665.0,846.5 L667.8,844.2 L671.2,846.0 L670.0,848.5 L667.5,850.2 L665.5,850.5Z"/>
<path d="M709.5,774.0 L710.0,771.0 L711.5,769.5 L713.0,770.5 L714.0,772.5 L716.0,774.0 L715.0,775.5 L714.0,777.5 L712.5,776.5 L710.5,777.0Z"/>
<path d="M713.0,765.5 L714.5,767.0 L716.0,769.0 L718.0,767.5 L720.0,766.5 L719.0,768.0 L716.5,769.5 L715.0,768.5"/>
<path d="M964.5,499.5 L966.0,499.0 L969.0,499.5 L970.5,500.0 L971.5,498.0 L973.0,496.5 L975.0,497.0 L977.5,499.0 L979.5,502.0 L979.0,500.0 L978.5,497.0 L977.0,494.5 L975.0,492.5 L972.8,490.0 L974.5,488.5 L977.0,489.0 L980.0,487.8 L983.0,488.0 L985.5,485.5 L988.0,485.0 L989.5,487.0 L990.0,490.0 L990.5,493.0 L992.5,496.2 L994.5,496.5 L994.0,494.0 L994.5,490.5 L996.0,487.0 L998.5,483.5 L1001.0,481.0 L1003.0,478.0 L1005.5,474.0 L1004.0,471.5 L1006.0,468.5 L1008.5,464.5 L1011.0,466.0 L1014.5,469.0 L1016.5,467.5 L1018.5,468.5 L1020.5,470.0 L1018.5,473.0 L1016.0,476.5 L1014.0,480.5 L1013.5,484.5 L1012.5,488.5 L1011.5,491.5 L1012.0,493.2 L1014.5,492.0 L1016.0,489.0 L1017.5,485.0 L1020.0,480.5 L1023.0,475.5 L1025.5,471.0 L1027.5,468.0 L1029.5,466.5 L1030.5,469.5 L1030.0,472.5 L1028.5,476.0 L1029.0,479.5 L1028.5,483.0 L1030.5,482.5 L1033.0,480.5 L1034.0,477.0 L1035.0,473.5 L1036.5,471.0 L1039.0,470.5 L1037.0,468.5 L1035.5,466.0 L1037.5,463.5 L1039.5,461.5 L1043.0,462.5 L1046.0,463.5 L1048.0,465.5 L1048.0,469.0 L1046.5,471.5 L1044.0,473.5 L1042.5,475.0 L1045.0,475.0 L1046.0,478.0 L1046.5,482.0 L1045.5,488.5 L1046.5,484.5 L1048.5,480.0 L1049.5,475.5 L1050.5,471.5 L1052.5,469.2 L1056.0,469.0 L1058.0,471.5 L1060.0,473.5 L1063.0,475.5 L1065.5,474.5 L1067.5,476.5 L1068.0,479.0 L1071.0,479.5 L1074.0,482.0 L1075.8,484.5 L1075.5,487.5 L1072.0,489.0 L1069.5,491.0 L1067.0,493.0 L1063.5,493.5 L1059.0,493.0 L1054.5,492.5 L1052.0,492.5 L1053.5,494.0 L1057.0,495.5 L1060.0,496.5 L1061.0,499.0 L1060.5,502.0 L1061.5,504.5 L1064.0,505.5 L1066.0,504.5 L1066.5,502.0 L1068.0,501.0 L1070.5,502.0 L1074.0,503.0 L1077.0,504.0 L1081.0,505.5"/>
<path d="M964.5,499.5 L964.2,503.0 L964.5,507.0 L966.5,510.8 L965.0,511.5 L963.0,513.0 L960.5,516.0 L960.0,516.5"/>
<path d="M1062.5,499.5 L1064.5,499.0 L1066.0,501.0 L1065.5,503.5 L1063.5,504.0 L1062.0,502.0Z"/>
<path d="M979.5,476.0 L983.0,474.5 L987.0,473.8 L990.0,473.0 L992.5,470.5 L995.0,470.0 L995.2,471.5 L993.5,475.0 L991.0,478.0 L987.5,479.0 L984.5,480.5 L982.0,479.0 L980.0,477.0Z"/>
<path d="M998.0,473.5 L1000.0,474.0 L1002.0,476.2 L1001.5,478.5 L999.5,479.0 L997.5,477.0Z"/>
<path d="M989.5,483.0 L992.0,480.5 L995.5,479.0 L997.5,479.0 L996.0,482.0 L994.0,485.0 L992.0,486.5 L990.0,485.0Z"/>
<path d="M993.0,487.5 L995.0,485.0 L997.2,482.0 L1000.0,480.5 L1002.5,480.0"/>
<path d="M1015.0,462.5 L1017.5,460.0 L1021.0,460.5 L1023.5,462.5 L1024.0,464.5 L1021.0,466.0 L1018.0,465.5 L1016.0,464.0Z"/>
<path d="M962.5,491.0 L964.5,489.5 L967.0,490.0 L967.2,492.5 L965.5,494.5 L963.5,494.0Z"/>
<path class="b" d="M960.0,527.0 L963.0,526.0 L966.0,525.0 L967.5,524.5 L969.5,525.5 L970.0,523.5 L969.5,521.2 L971.0,519.2 L973.5,518.5 L976.0,519.0 L978.0,522.5 L980.0,526.2 L982.5,530.5 L984.0,535.0 L987.5,535.8 L990.5,536.8 L993.0,537.2 L996.0,536.2 L998.5,534.5 L1000.0,532.5 L1002.5,534.0 L1006.0,536.0 L1009.0,538.0 L1011.0,539.2 L1012.5,538.0 L1013.5,534.5 L1015.0,531.5 L1018.0,530.0 L1019.8,527.5 L1020.2,524.0 L1020.0,520.0 L1020.5,516.0 L1021.5,511.5 L1022.5,507.0 L1025.0,504.0 L1027.0,500.5 L1028.5,498.8 L1031.5,498.5 L1034.5,499.2 L1037.0,497.5 L1039.0,495.0 L1041.5,494.3 L1043.2,495.5 L1045.0,498.5 L1048.0,502.0 L1052.0,504.5 L1055.5,506.5 L1057.0,509.0 L1058.0,513.0 L1055.5,517.0 L1053.0,521.0 L1052.5,524.0 L1053.5,526.2"/>
<path class="b" d="M1053.5,526.2 L1056.5,525.0 L1057.5,522.0 L1058.5,518.5 L1061.0,516.8 L1065.0,515.5 L1067.5,512.0 L1067.0,508.5 L1068.5,509.2 L1071.0,510.5 L1073.5,511.2 L1074.8,509.0 L1075.0,506.0 L1074.0,503.0"/>
<path class="b" d="M1053.5,526.2 L1050.5,528.5 L1048.0,530.0 L1050.5,531.0 L1052.5,532.5 L1051.5,535.0 L1050.0,538.0 L1049.0,541.5 L1049.5,545.0 L1050.5,550.0"/>
<path class="b" d="M967.0,525.5 L968.0,529.0 L970.5,531.5 L974.0,535.5 L977.5,539.0 L981.0,541.8 L985.0,543.5 L989.0,546.0 L992.0,550.0"/>
<path class="b" d="M960.0,529.0 L961.5,530.0 L962.0,533.0 L961.0,537.0 L960.0,539.0"/>
<path d="M881.9,561.0 L882.8,557.4 L884.0,554.7 L885.5,554.4 L886.4,552.0 L888.5,551.1 L889.7,548.7 L892.1,548.1 L895.4,548.7 L895.7,549.9 L894.2,551.4 L892.4,552.9 L890.0,553.8 L888.2,555.0 L886.7,556.5 L885.2,557.4 L884.0,559.2 L882.8,560.7Z"/>
<path d="M916.1,517.5 L914.6,518.4 L913.4,521.1 L911.6,523.5 L910.1,525.9 L909.7,528.3 L910.9,529.5 L911.6,531.0 L910.7,532.5 L910.1,535.2 L909.5,538.2 L908.0,540.6 L906.2,543.0 L903.8,543.7 L900.8,544.5 L898.7,546.9 L897.2,549.0 L897.1,550.5 L898.4,551.4 L901.4,550.7 L902.9,549.0 L904.4,547.3 L905.9,547.9 L907.4,546.6 L908.5,545.4 L909.5,547.2 L910.7,546.9 L912.2,545.7 L913.4,544.3 L915.5,544.5 L916.4,542.7 L917.6,540.9 L919.4,539.7 L920.9,538.5 L921.8,537.6 L921.7,534.6 L920.9,532.2 L919.4,530.7 L917.6,531.6 L917.3,534.3 L916.4,536.4 L915.1,537.3 L914.0,539.4 L913.4,540.3 L913.3,538.2 L914.3,535.8 L914.9,534.0 L914.7,531.0 L913.9,528.0 L913.9,526.3 L915.9,523.8 L917.0,521.4 L917.6,519.0Z"/>
<path d="M898.4,536.4 L899.3,534.0 L900.7,532.3 L902.6,533.1 L903.5,531.6 L903.7,529.5 L905.3,529.5 L905.7,527.1 L906.5,526.3 L907.4,527.7 L908.3,530.4 L909.1,532.8 L909.3,535.2 L908.9,537.6 L907.4,538.2 L905.3,538.5 L903.5,538.2 L902.7,536.4 L901.4,537.3 L899.7,537.7Z"/>
<path d="M921.8,537.6 L923.3,537.0 L925.1,536.3 L927.5,536.1 L929.3,534.6 L931.1,532.5 L932.0,529.8 L932.6,526.8 L933.8,524.7 L935.6,523.5 L938.3,522.6 L938.6,520.2 L938.0,517.2 L938.9,514.8 L940.4,513.3"/>
<path d="M921.2,538.2 L921.2,541.2 L921.8,542.7 L924.8,542.7 L928.4,542.7 L931.4,542.3 L932.7,543.5 L930.8,544.5 L928.4,545.4 L926.0,546.3 L924.2,545.5 L922.7,544.5 L920.6,544.5 L918.8,545.7 L917.6,547.5 L917.9,549.9 L918.8,552.6 L920.3,553.5 L919.4,555.6 L918.8,557.4 L919.4,559.5 L918.3,559.5 L917.3,557.4 L916.4,554.7 L915.9,552.0 L916.4,549.9 L915.5,549.3 L914.0,550.5 L911.9,551.4 L910.1,552.9 L908.3,554.4 L908.6,555.6 L910.4,556.2 L912.1,556.5 L911.6,558.0 L909.8,558.3 L908.0,557.1 L906.5,556.5 L905.0,558.0 L903.5,560.4 L903.2,563.1 L902.9,565.2 L904.4,565.5 L906.2,564.3 L908.0,563.1 L908.9,562.8 L908.3,564.3 L907.4,565.8 L908.0,567.6 L909.2,568.8 L911.0,569.1 L912.8,568.5"/>
<path d="M902.0,570.0 L903.2,568.5 L905.0,567.9 L906.8,568.5 L907.7,570.0"/>
<path class="b" d="M950.0,542.7 L947.0,541.5 L944.0,541.2 L942.5,540.0 L941.0,539.4 L939.2,540.0 L938.3,541.2 L938.6,543.6 L939.2,547.2 L939.3,550.8 L938.0,553.8 L936.5,557.4 L933.2,555.3 L930.2,552.9 L927.2,555.9 L924.2,558.6 L923.3,561.6 L922.4,565.2 L921.2,567.6 L919.4,569.1 L917.6,570.0"/>
<path d="M924.2,524.5 L926.0,523.0 L926.5,520.5 L926.2,518.0 L926.5,515.8 L928.0,515.0 L930.5,515.2 L930.8,513.8 L929.2,512.5 L929.8,511.2 L931.5,510.5 L932.0,509.4 L933.5,510.2 L935.2,510.5 L936.8,511.8 L937.8,513.2 L937.8,515.5 L936.8,517.5 L936.5,520.0 L936.0,521.2 L934.0,521.8 L931.5,521.2 L930.0,523.0 L928.8,525.5 L927.8,526.5 L926.5,525.2 L924.5,525.0Z"/>
<path d="M938.0,509.0 L939.0,508.0 L940.0,506.0 L941.0,503.8 L943.0,503.2 L944.5,503.5 L944.2,501.5 L944.5,499.5 L945.8,498.0 L946.5,496.0 L948.0,495.2 L948.5,493.5 L948.2,491.0 L949.0,489.0 L950.0,488.5 L950.8,489.8 L950.8,492.5 L950.5,494.5 L951.5,495.5 L953.2,495.1 L954.5,496.0 L954.8,497.0 L953.5,498.2 L952.5,500.2 L951.5,502.0 L949.8,502.2 L948.2,503.0 L947.0,504.8 L946.0,507.0 L945.2,509.2 L943.0,510.0 L940.5,510.8 L938.8,510.5Z"/>
<path d="M940.4,513.3 L941.0,514.5 L942.0,516.0 L943.5,517.2 L945.2,517.6 L947.0,517.2 L946.5,516.2 L945.0,515.2 L944.0,514.0 L943.6,512.5 L944.5,511.5 L946.8,511.2 L947.9,510.0 L948.4,507.8 L949.1,505.6 L950.5,504.4 L953.0,503.6 L955.1,502.6 L955.8,504.0 L956.1,506.0 L956.4,508.5 L955.9,511.0 L955.1,513.2 L954.5,514.8 L954.2,513.0 L954.9,510.0 L955.4,507.0 L956.0,505.0 L957.0,503.0 L958.2,500.8 L960.0,499.0 L961.5,498.1 L962.2,499.0 L962.5,502.0 L962.2,505.0 L962.0,508.0 L961.2,511.0 L960.5,513.0 L959.9,514.5 L960.2,516.4"/>
<path d="M954.2,488.5 L955.2,488.2 L956.8,489.5 L958.2,491.0 L959.1,492.8 L959.0,494.2 L957.5,494.5 L956.2,494.0 L955.4,492.2 L955.0,490.5 L954.1,489.5Z"/>
<path class="b" d="M960.0,539.0 L959.5,540.0 L960.5,542.5 L958.5,546.0 L954.0,544.0 L950.0,542.7"/>
<path d="M902.0,570.0 L901.0,573.0 L899.5,576.0 L902.0,577.0 L906.0,577.2 L910.0,577.5 L909.0,578.5 L905.0,578.5 L901.0,579.2 L898.0,580.0 L895.5,581.0 L894.0,584.0 L892.0,586.0 L891.0,587.2 L892.5,588.5 L894.5,589.2 L892.0,589.5 L889.5,591.0 L886.8,592.5 L885.5,595.5 L884.8,598.5 L885.0,602.0 L885.5,604.2 L888.0,604.0 L891.0,603.2 L894.8,602.5 L893.5,604.5 L890.5,606.0 L887.0,606.2 L884.0,607.0 L881.5,608.0 L882.5,610.0 L884.5,611.0 L883.5,612.5 L881.2,612.0 L880.5,614.0 L879.5,616.0 L877.5,619.0 L876.0,622.0 L875.0,625.5 L874.5,629.0 L876.5,630.0 L879.0,630.5 L881.0,629.0 L883.0,627.5 L882.0,630.0 L880.0,633.0 L877.5,634.5 L875.5,633.5 L874.5,631.5 L872.0,633.0 L869.5,635.0 L867.0,637.0 L864.5,639.0 L866.5,640.5 L869.5,641.2 L867.0,643.0 L864.5,644.5 L861.5,647.0 L859.5,649.5 L857.5,651.0 L855.5,654.0 L853.5,657.5 L851.5,660.0"/>
<path d="M910.0,569.5 L910.8,572.0 L911.5,574.5 L911.4,571.8 L912.0,569.2"/>
<path d="M876.5,608.5 L878.0,605.5 L879.8,605.2 L880.2,608.0 L882.0,609.8 L880.0,610.5 L878.0,610.0Z"/>
<path d="M878.0,612.5 L880.0,611.0 L881.5,612.0 L879.5,613.5Z"/>
<path d="M870.5,619.5 L871.8,618.3 L873.5,619.2 L873.2,621.0 L871.5,621.5Z"/>
<path d="M860.0,639.0 L861.5,637.5 L864.5,637.5 L865.5,639.5 L863.5,640.8 L860.5,640.5Z"/>
<path class="b" d="M917.6,570.0 L918.0,572.5 L919.5,575.5 L920.8,579.0 L920.5,582.0 L918.0,585.5 L915.0,590.0 L912.0,594.5 L909.5,598.0 L910.5,600.0 L910.5,603.0 L908.0,605.0 L905.0,606.2 L900.5,607.0 L900.8,610.0 L901.5,614.0 L901.2,618.0 L900.5,623.0 L900.0,628.0 L898.5,632.0 L896.5,636.5 L894.0,641.5 L891.0,646.5 L893.0,648.0 L895.5,649.5 L896.5,654.0 L896.0,657.5 L894.5,660.0"/>
<path d="M851.5,660.0 L850.5,663.0 L848.0,665.5 L847.2,668.0 L849.0,668.5 L850.0,670.0 L848.5,670.5 L845.5,671.0 L843.5,672.0 L842.5,674.0 L842.0,672.5 L842.5,670.5 L840.0,669.5 L837.5,670.0 L835.5,671.5 L834.5,673.5 L836.0,674.5 L837.8,675.5 L837.5,677.5 L835.0,678.2 L833.0,679.5 L832.5,682.0 L834.0,684.0 L836.0,686.5 L837.8,688.5 L835.5,687.0 L833.5,685.0 L832.0,683.5 L831.2,682.2 L828.5,682.0 L826.0,682.5 L823.5,684.5 L820.0,685.5 L818.5,688.0 L817.2,690.5 L819.0,691.2 L822.0,690.5 L824.5,691.5 L827.5,691.0 L831.5,690.5 L829.5,691.5 L826.5,692.5 L827.5,694.5 L825.5,695.5 L823.5,694.0 L820.5,693.2 L817.0,693.2 L813.5,693.5 L811.5,695.5 L810.5,698.0 L812.5,699.0 L815.0,698.5 L816.8,697.5 L814.5,699.5 L811.0,700.0 L808.5,698.5 L806.0,699.2 L804.0,701.0 L802.5,704.0 L800.5,704.5 L799.5,706.5 L800.5,709.0 L803.0,709.5 L806.0,710.5 L809.0,711.5 L813.0,711.2 L817.0,710.5 L815.0,711.8 L811.5,712.8 L808.0,712.5 L805.0,711.0 L801.5,710.0 L798.5,710.2 L797.5,712.0 L798.0,715.0 L799.5,717.5 L801.5,719.0 L802.5,719.8 L799.5,720.5 L798.5,722.5 L799.2,725.0 L801.0,727.0 L804.0,727.5 L807.5,726.8 L811.5,727.0 L814.5,726.0 L815.5,724.0 L817.0,725.5 L820.0,726.5 L823.5,725.5 L823.0,723.0 L824.5,720.5 L824.8,723.5 L826.5,725.5 L824.0,726.8 L821.0,727.5 L820.5,731.0 L819.5,728.5 L818.0,727.5 L814.0,728.2 L810.0,728.5 L806.0,728.0 L802.5,729.0 L799.5,728.5 L799.0,730.0 L799.2,734.0 L800.0,737.5 L801.5,739.5 L803.5,738.5 L805.5,737.0 L803.5,739.0 L801.2,740.5 L800.0,743.0 L800.5,745.5 L802.0,747.5 L804.0,748.5 L806.0,749.0"/>
<path d="M850.0,670.0 L850.5,672.0 L852.0,672.5 L855.0,671.0 L858.0,669.0 L861.0,666.5 L864.0,664.0 L862.5,662.5 L864.5,660.5 L866.5,659.5 L867.8,660.5 L866.0,663.0 L866.8,665.5 L865.0,667.5 L862.0,669.0 L860.0,670.5 L859.5,672.5 L860.5,674.0 L858.0,674.5 L855.0,674.0 L852.5,675.0 L851.0,673.5 L850.0,671.5"/>
<path d="M833.5,668.5 L836.2,667.0 L838.8,665.8 L839.5,667.8 L837.5,669.2 L835.0,669.5Z"/>
<path d="M828.5,675.0 L830.0,673.8 L832.5,674.5 L832.0,676.5 L830.0,676.8Z"/>
<path d="M796.5,726.5 L797.5,725.8 L798.5,726.8 L797.8,728.2 L796.6,728.0Z"/>
<path class="b" d="M894.5,660.0 L891.0,659.8 L886.5,659.2 L883.0,660.0 L880.5,662.0 L878.5,665.5 L876.5,668.5 L875.0,671.0 L875.5,674.5 L874.0,676.5 L873.5,679.0 L874.8,682.0 L875.5,685.0 L874.8,688.0 L875.0,692.0 L874.8,696.0 L876.0,699.5 L876.2,704.0 L875.5,709.0 L874.8,714.0 L877.5,716.5 L880.5,719.0 L882.8,722.0 L882.0,726.0 L880.5,729.0 L877.0,729.8 L876.5,731.5 L878.0,736.0 L879.2,740.0 L879.0,745.0 L878.5,750.0"/>
<path d="M806.0,749.0 L805.0,750.0 L802.0,749.8 L800.5,751.0 L800.8,753.0 L800.0,755.5 L799.5,758.5 L801.0,759.5 L803.0,757.5 L805.0,755.0 L807.0,752.5 L808.5,749.5 L810.0,746.0 L812.5,743.0 L816.0,741.5 L820.0,740.8 L817.0,742.2 L814.0,744.0 L811.5,747.0 L810.0,750.5 L808.5,753.0 L806.5,755.0 L808.0,756.0 L811.5,755.5 L809.5,757.5 L807.0,759.0 L804.5,758.5 L802.5,759.5 L801.0,761.0 L800.5,764.0 L800.0,767.0 L800.5,769.5 L802.5,769.5 L805.0,767.0 L808.0,765.0 L811.0,763.0 L814.0,761.0 L811.5,763.5 L809.0,766.0 L808.5,769.0 L808.8,772.0 L810.5,773.5 L813.5,772.5 L811.0,775.5 L808.5,774.0 L806.5,772.5 L804.8,773.5 L804.2,777.0 L804.5,780.0 L806.0,782.5 L809.0,784.5 L811.5,786.5 L814.0,787.5 L816.5,787.5 L816.0,789.5 L815.5,791.0 L817.5,790.0 L819.0,791.0 L820.0,792.5 L823.5,792.5 L827.0,792.2 L830.5,790.8 L833.5,789.0 L836.5,786.5 L839.0,783.0 L842.0,780.0 L845.0,777.5 L845.5,775.5 L847.5,774.0 L849.0,772.5 L847.5,770.5 L849.5,771.5 L851.0,773.5 L853.5,772.5 L855.5,769.5 L856.8,765.5 L856.5,762.0 L858.0,760.5 L858.5,756.5 L859.0,760.0 L859.2,764.0 L860.5,767.5 L862.0,769.0 L864.5,769.5 L864.8,775.0 L865.5,780.0 L865.5,785.0 L867.5,786.0 L867.8,789.5 L868.5,792.5 L870.5,794.0 L871.0,797.5 L872.5,800.0 L873.0,803.5 L874.5,806.0 L875.5,810.0 L877.5,814.0 L879.5,816.5 L881.5,819.0 L883.5,821.0 L883.0,823.0 L880.5,824.0 L881.5,826.0 L879.0,827.0 L879.5,829.5 L881.0,832.0 L882.5,835.0"/>
<path d="M798.0,742.5 L799.0,742.0 L799.8,745.0 L799.5,747.8 L798.5,747.0 L798.0,744.5Z"/>
<path d="M814.5,748.5 L815.5,745.0 L816.8,743.0"/>
<path class="b" d="M878.5,750.0 L877.5,751.0 L875.0,753.0 L872.5,754.5 L871.0,759.0 L869.5,760.5 L870.5,763.5 L871.5,767.0 L870.5,772.5 L869.0,775.0 L867.5,773.5 L866.5,770.5 L864.5,769.5"/>
<path d="M858.5,798.5 L856.0,800.0 L851.5,801.5 L850.0,803.0 L848.5,806.0 L847.0,808.5 L844.5,809.5 L841.0,809.5 L837.5,810.5 L835.5,812.5 L834.0,815.0 L833.2,817.0 L834.5,818.5 L837.5,818.0 L839.5,816.0 L840.5,813.5 L842.0,812.0 L844.5,812.5 L844.0,815.5 L843.8,818.5 L842.5,817.5 L840.0,818.0 L839.0,820.0 L838.0,822.5 L836.0,821.5 L834.0,820.5 L832.5,820.5 L832.0,825.0 L831.8,829.0 L832.5,832.5 L833.0,835.0"/>
<path d="M858.5,798.5 L857.0,801.0 L857.5,805.0 L857.2,808.5 L855.5,812.5 L855.0,816.5 L855.0,820.0 L856.5,821.5 L859.0,821.8 L861.5,822.5 L862.0,824.5 L861.0,827.0 L859.0,828.5 L857.0,827.0 L855.5,827.5 L854.5,830.5 L854.0,833.5 L851.5,834.5 L851.0,835.0"/>
<path d="M861.2,807.2 L863.0,806.2 L864.8,806.2 L863.5,807.8 L862.0,808.5Z"/>
<path d="M858.0,835.0 L858.5,832.5 L859.5,835.0"/>
<path d="M867.0,835.0 L868.0,833.0 L869.5,833.5 L870.0,835.0"/>
<path d="M871.5,835.0 L872.2,832.5 L874.8,830.0 L877.8,829.0 L879.2,830.0 L880.0,832.5 L880.5,835.0"/>
<path d="M833.0,835.0 L832.5,837.5 L831.7,839.2 L833.8,840.8 L836.2,842.1 L837.9,843.3 L838.2,845.8 L837.5,848.8 L835.4,849.6 L834.2,851.2 L833.3,854.2"/>
<path d="M851.0,835.0 L852.9,834.6 L852.1,836.2 L850.4,838.8 L848.8,840.8 L847.5,842.9 L847.9,845.8 L847.1,847.9 L846.2,849.6 L847.9,850.0 L850.4,849.8 L851.7,851.2 L852.1,854.2"/>
<path d="M850.4,842.5 L852.5,840.4 L855.8,839.3 L858.8,839.6 L859.8,842.1 L860.7,845.0 L860.8,847.9 L862.1,848.5 L861.2,850.0 L859.2,849.2 L856.7,849.3 L853.8,848.3 L851.7,846.2 L850.7,844.2Z"/>
<path d="M858.0,835.0 L857.9,836.5 L858.8,836.8 L859.5,835.0"/>
<path d="M867.0,835.0 L865.0,836.7 L862.5,837.5 L863.8,839.6 L864.6,842.5 L865.0,845.0 L866.7,846.7 L869.2,847.5 L870.4,848.8 L870.4,854.2"/>
<path d="M870.0,835.0 L870.4,837.1 L871.5,835.0"/>
<path d="M880.5,835.0 L879.3,837.5 L879.6,839.2 L878.3,840.4 L876.7,840.8 L876.0,842.9 L877.5,844.2 L876.7,846.2 L875.0,847.5 L874.2,849.6 L875.8,850.0 L878.3,850.4 L878.8,854.2"/>
<path d="M882.5,835.0 L883.8,836.7 L884.0,840.8 L882.9,842.9 L885.8,844.2 L889.2,843.8 L893.3,843.3 L897.1,842.9 L897.9,840.4 L896.7,837.5 L897.1,834.6 L898.8,832.5 L902.1,831.2 L902.5,829.6 L905.0,828.8 L908.3,828.8 L911.7,828.3 L914.2,829.2 L915.8,827.5 L917.1,823.3 L918.3,820.0 L920.0,817.9"/>
<path d="M901.2,846.7 L902.9,845.0 L905.0,846.2 L906.8,848.3 L906.2,850.4 L904.2,850.4 L902.1,848.8Z"/>
<path d="M920.0,817.9 L921.0,814.0 L921.5,810.0 L921.0,808.0 L922.5,805.0 L922.5,801.0 L921.8,797.0 L923.5,794.5 L924.0,789.0 L923.0,785.0 L925.5,783.0 L924.0,781.0 L921.0,780.5 L918.2,780.0 L921.5,779.8 L926.0,779.5 L929.0,777.8 L932.0,775.0 L936.0,772.5 L939.5,770.5 L941.5,769.5 L942.0,772.0 L941.2,770.0 L941.5,767.0 L939.0,766.2 L937.0,765.2 L939.5,763.5 L942.5,761.5 L944.0,762.5 L943.0,766.0 L944.5,760.0 L947.0,757.0 L947.8,755.0 L947.0,751.5 L945.5,749.5 L943.5,748.0 L943.2,745.5 L941.0,744.0 L939.0,743.0 L937.5,741.0 L937.0,740.0"/>
<path d="M927.0,806.0 L927.8,806.5 L926.5,812.0 L925.0,817.0 L923.2,823.0 L921.5,827.5 L920.2,827.0 L920.5,823.0 L922.5,818.0 L924.5,813.0 L926.0,808.5Z"/>
<path d="M938.5,814.0 L939.5,811.5 L938.5,808.0 L938.2,803.0 L940.0,800.0 L942.5,796.5 L946.0,795.2 L949.0,794.0 L951.5,793.5 L949.5,796.0 L947.0,798.5 L946.0,801.0 L946.5,805.0 L944.5,808.5 L941.5,811.0 L940.0,814.5Z"/>
<path d="M953.5,747.0 L955.5,745.5 L957.0,743.0 L959.0,744.5 L961.0,745.5 L960.5,748.0 L958.5,750.0 L956.0,749.5 L954.5,748.5Z"/>
<path d="M962.8,750.0 L964.0,749.6 L965.0,750.6 L963.8,751.2Z"/>
<path d="M974.5,748.5 L977.0,747.5 L978.5,748.5 L976.5,749.5Z"/>
<path d="M971.5,740.5 L974.0,741.5 L978.0,742.0 L980.0,744.5 L983.0,746.0 L984.5,748.5 L985.0,750.5 L987.5,751.0 L989.0,747.5 L990.5,749.5 L992.5,752.0 L993.5,753.5 L991.5,755.5 L990.0,755.0 L992.0,753.5 L994.5,752.5 L997.5,752.0 L1001.0,751.0 L1005.0,750.5 L1008.5,748.5 L1012.0,747.5 L1016.0,745.5 L1020.0,744.5"/>
<path d="M979.0,743.0 L981.5,743.5 L984.5,743.0 L986.0,744.5 L985.5,747.0 L983.5,747.8 L981.5,746.0 L979.5,745.0Z"/>
<path d="M1020.0,759.5 L1016.5,760.0 L1013.5,761.5 L1010.0,761.5 L1006.5,763.5 L1003.0,764.5 L1002.0,766.5 L998.5,767.5 L995.5,768.5 L995.0,772.0 L995.5,775.0 L997.5,777.5 L996.5,779.5 L997.5,783.0 L999.0,785.5 L1002.0,786.5 L1004.0,787.0 L1005.0,785.5 L1006.5,786.0 L1006.8,789.0 L1005.8,792.0 L1004.5,795.5 L1005.0,800.0 L1005.5,804.0 L1005.0,808.0 L1003.0,810.5 L1000.5,812.5 L998.0,813.5 L995.0,812.0 L993.0,810.0 L991.8,806.5 L989.5,803.5 L988.0,802.0 L986.2,799.0 L985.0,798.2 L982.0,799.5 L979.0,800.5 L976.5,801.5 L975.0,804.0 L973.8,808.0 L973.5,811.5 L971.5,814.5 L970.0,816.5 L969.5,820.0 L969.5,825.0 L970.0,830.5 L969.5,834.0 L970.5,838.0 L971.0,840.0"/>
<path class="b" d="M1004.5,795.5 L1008.0,793.5 L1012.5,791.8 L1016.0,792.5 L1020.0,795.0"/>
<path class="b" d="M970.0,830.5 L974.0,827.0 L979.0,824.5 L985.0,824.8 L990.0,825.0 L991.5,825.8 L996.0,825.5 L1000.0,826.2 L1003.0,827.0 L1007.0,826.0 L1009.5,824.2 L1011.0,825.0 L1012.5,827.5 L1016.0,828.8 L1020.0,830.5"/>
<path d="M980.5,774.0 L983.5,773.0 L985.5,771.8 L986.8,770.5 L988.0,772.0 L990.0,773.0 L990.8,775.0 L989.0,776.5 L987.5,778.0 L985.5,778.5 L984.5,776.0 L982.5,775.0Z"/>
<path d="M978.5,783.0 L980.0,783.5 L983.0,782.0 L985.5,780.5 L989.0,780.5 L991.5,781.5 L993.0,780.0 L994.5,781.5 L993.5,784.0 L991.0,785.5 L988.5,788.0 L985.0,788.5 L982.5,789.5 L980.0,788.5 L978.5,786.5 L979.5,784.5Z"/>
<path d="M979.5,793.5 L981.0,791.0 L982.5,791.5 L981.5,794.0 L980.0,794.8Z"/>
<path d="M1020.0,759.5 L1024.0,760.0 L1029.0,761.0 L1032.0,763.0 L1037.0,763.2 L1042.0,763.8 L1044.0,763.0 L1043.8,760.0 L1044.2,757.0 L1045.0,756.0"/>
<path class="b" d="M1044.0,763.0 L1045.5,764.5 L1044.0,766.0 L1042.5,767.0 L1041.5,770.0 L1040.5,772.5 L1041.5,776.0 L1042.0,780.0 L1042.2,783.0 L1040.5,785.5 L1039.0,788.0 L1038.5,790.5 L1040.0,792.5 L1041.5,794.5 L1040.0,796.0 L1038.5,798.0 L1037.0,801.0 L1036.2,802.5"/>
<path class="b" d="M1040.5,772.5 L1037.0,772.5 L1034.0,773.5 L1032.2,775.5 L1033.0,778.0 L1034.5,780.5 L1035.8,784.0 L1037.5,786.5 L1038.5,789.5"/>
<path class="b" d="M1039.0,790.0 L1041.5,789.2 L1044.0,790.5 L1045.5,793.0 L1045.0,795.5 L1043.0,795.5 L1041.2,794.5"/>
<path class="b" d="M1020.0,795.0 L1022.5,796.5 L1025.0,800.0 L1027.5,802.5 L1030.0,801.5 L1032.5,800.5 L1034.5,802.0 L1036.2,802.5 L1038.0,802.5 L1040.0,805.0 L1042.2,807.5 L1041.5,811.0 L1040.0,816.0 L1042.0,815.5 L1043.0,818.5 L1045.0,822.0 L1045.8,826.0 L1045.2,829.5 L1042.0,830.5 L1040.0,833.5 L1039.0,836.0 L1036.0,836.0 L1033.0,835.5 L1030.5,837.5 L1028.5,838.8"/>
<path class="b" d="M1020.0,830.5 L1022.5,833.0 L1025.0,836.0 L1026.5,838.0 L1028.5,838.8 L1028.0,842.0 L1027.2,844.0 L1029.0,845.0 L1030.8,846.0 L1029.5,848.0 L1026.5,848.5 L1025.0,849.5 L1024.0,851.5 L1023.0,854.5"/>
<path class="b" d="M1045.2,829.5 L1047.0,830.5 L1050.0,830.5 L1052.0,833.2 L1054.5,831.8 L1057.5,832.5 L1058.5,834.5 L1058.0,837.0 L1059.5,838.5 L1062.0,836.8 L1065.0,835.5 L1068.5,835.5 L1071.0,837.5 L1073.0,839.2 L1075.0,840.2 L1074.8,843.5 L1073.5,846.0 L1075.0,848.0 L1075.5,850.5 L1074.0,854.5"/>
<path d="M971.0,840.0 L971.5,843.0 L971.8,848.0 L971.5,854.5"/>
<path d="M970.8,838.5 L969.5,842.0 L967.5,846.0 L965.5,849.0 L963.5,851.5 L962.0,854.5"/>
<path class="b" d="M971.8,845.0 L975.0,846.5 L978.5,848.5 L981.5,849.8 L985.0,849.5 L987.0,850.5 L988.0,854.5"/>
<path d="M972.0,645.0 L973.0,647.5 L974.8,649.5 L974.5,651.5 L972.0,654.0 L970.0,656.0 L968.5,659.0 L967.5,662.0 L966.0,664.5 L963.0,666.5 L960.0,669.0 L957.5,670.5 L956.0,673.0 L954.5,674.0 L952.0,673.5 L950.5,675.0 L949.5,677.5 L947.5,679.5 L945.5,679.0 L943.5,680.5 L943.0,683.0 L941.0,684.5 L942.5,686.0 L940.5,688.0 L938.5,689.5 L936.5,688.0 L936.8,691.0 L937.5,694.0 L936.0,695.5 L934.0,697.0 L932.0,697.5 L930.5,697.0 L931.0,700.0 L933.0,702.5 L932.0,705.0 L931.2,709.0 L930.5,712.0 L931.5,714.5 L928.5,714.2 L927.5,718.0 L927.8,723.0 L928.2,728.0 L928.8,733.0 L929.5,737.0 L932.5,738.0 L934.5,740.0 L936.5,739.0 L937.2,740.5"/>
<path d="M1006.0,645.0 L1004.5,648.5 L1002.0,651.5 L999.5,655.0 L997.0,659.0 L993.5,662.5 L990.0,665.5 L988.0,668.0 L985.5,669.5 L985.0,672.0 L982.5,674.5 L983.5,677.0 L981.5,679.0 L978.5,679.8 L975.5,679.5 L973.5,680.0 L974.5,680.2 L975.5,683.0 L974.0,686.0 L972.0,688.5 L970.5,691.0 L970.0,694.0 L970.5,697.0 L972.5,699.5 L973.0,703.0 L971.8,707.5 L973.5,710.5 L975.0,714.0 L975.5,717.0 L974.8,719.5 L974.5,724.0 L973.5,728.0 L972.8,731.0 L973.5,735.0 L973.8,739.0 L971.5,738.5 L971.8,740.5"/>
<path d="M973.8,739.0 L977.5,739.0 L979.0,741.5"/>
<path d="M970.0,678.5 L972.0,678.0 L973.8,679.5 L972.5,681.0 L970.8,680.2Z"/>
<path class="b" d="M992.0,550.0 L992.5,552.0 L994.0,552.8 L995.5,555.5 L997.5,557.5 L996.0,559.5 L995.5,563.0 L996.2,567.0 L995.0,570.5 L995.5,571.5 L998.0,572.0 L998.8,574.5 L997.2,577.0 L997.0,580.0 L998.0,583.5 L1000.0,586.5 L1001.2,589.0 L1000.0,593.0 L999.2,596.0 L997.8,598.0 L997.8,602.0 L998.5,605.0 L1000.0,606.5 L1001.2,609.5 L1002.2,613.0 L1002.8,615.5"/>
<path d="M1002.8,615.5 L1000.0,616.2 L997.5,615.2 L994.0,615.8 L991.8,617.2 L990.0,615.5 L988.0,614.0 L986.2,615.5 L984.0,614.2 L983.2,617.0 L982.5,620.5 L980.5,622.5 L978.5,623.0 L979.0,625.0 L976.5,625.8 L974.5,626.5 L973.5,628.5 L975.0,630.0 L975.5,633.0 L974.0,635.5 L972.5,637.5 L971.0,639.5 L970.5,641.0 L971.8,643.0 L972.5,645.0"/>
<path d="M1002.8,615.5 L1005.0,616.0 L1007.5,614.5 L1007.2,617.5 L1008.5,619.2 L1011.0,620.0 L1013.5,621.8 L1015.5,624.0 L1015.2,628.0 L1014.8,632.0 L1015.8,635.5 L1014.5,637.0 L1015.0,639.5 L1012.5,639.2 L1010.0,639.5 L1007.8,641.0 L1006.2,643.5 L1005.5,645.0"/>
<path d="M1007.0,635.0 L1009.0,633.8 L1011.5,634.5 L1011.0,636.5 L1008.5,637.0Z"/>
<path class="b" d="M1050.5,550.0 L1054.0,552.2 L1058.0,554.5 L1060.0,558.0 L1062.5,562.0 L1065.2,565.5 L1064.5,569.5 L1062.5,572.0 L1060.0,575.5 L1057.5,579.5 L1055.5,583.5 L1054.8,586.5 L1056.0,589.5 L1058.0,593.5 L1060.0,598.0 L1061.0,602.0 L1063.0,605.5 L1064.5,609.0 L1065.5,613.0 L1066.5,617.0 L1066.0,619.0 L1062.0,619.8 L1063.0,622.0 L1062.0,625.0 L1061.8,628.0 L1060.5,630.0 L1063.0,631.0 L1063.5,633.0 L1061.5,635.0 L1060.0,636.5 L1061.0,639.5 L1063.5,641.2 L1066.0,642.0 L1067.0,645.0"/>
<path class="b" d="M1067.0,645.0 L1065.1,647.0 L1064.4,648.4 L1065.1,651.2 L1066.5,652.6 L1069.0,654.0 L1070.7,655.8 L1070.8,658.6 L1070.4,661.0 L1069.0,663.5 L1067.6,665.6 L1066.2,666.5 L1064.8,667.7 L1066.9,670.1 L1069.3,672.9 L1072.1,675.0 L1074.9,677.5 L1077.4,679.9 L1078.8,682.7 L1080.5,685.5 L1079.8,690.4 L1078.4,694.6 L1076.0,698.8 L1072.8,702.3 L1070.0,705.8 L1067.2,710.0"/>
<path class="b" d="M1067.2,710.0 L1063.0,715.8 L1057.4,723.8 L1051.8,728.4 L1047.6,732.2 L1044.1,737.1 L1041.7,740.3"/>
<path d="M1020.0,744.8 L1021.0,745.2 L1022.8,743.8 L1022.3,741.7 L1023.8,742.4 L1025.6,742.6 L1027.3,742.0 L1027.7,739.9 L1028.6,738.2 L1028.4,740.3 L1028.0,742.4 L1030.5,741.9 L1032.6,741.3 L1033.6,740.3 L1035.4,740.0 L1036.4,740.6 L1037.5,741.7 L1039.2,741.3 L1041.3,740.5 L1043.8,739.8 L1045.9,739.3 L1047.6,738.2 L1049.0,737.1 L1050.5,737.8 L1050.8,739.9 L1049.8,742.0 L1049.0,740.6 L1049.4,742.4 L1050.4,743.8 L1052.5,744.8 L1053.9,746.6 L1055.3,747.7 L1057.4,748.3 L1059.5,748.0 L1061.6,747.5 L1063.0,748.3 L1064.4,750.1 L1065.5,751.7 L1066.9,753.2 L1066.2,754.6 L1064.4,753.9 L1062.0,753.2 L1058.8,752.2 L1056.4,751.5 L1055.0,752.5 L1054.3,754.6 L1053.2,755.7 L1051.1,756.0 L1049.0,755.3 L1048.2,756.7 L1047.6,758.5 L1045.9,757.4 L1045.0,756.0"/>
<path d="M507.2,629.0 L508.3,628.1 L510.0,627.3 L511.8,626.4 L512.8,625.5 L512.5,624.5 L511.1,623.6 L509.3,624.1 L507.7,624.1 L506.9,622.5 L505.1,621.8 L503.7,621.7 L502.3,622.4 L501.3,621.3 L499.9,622.0 L498.1,622.9 L496.0,623.8 L493.9,624.5 L492.2,625.3 L490.8,625.7 L489.4,624.8 L487.6,624.1 L485.9,623.6 L484.5,623.4 L484.8,622.4 L485.7,621.1 L486.9,620.4 L488.0,620.8 L489.4,621.8 L490.8,622.5 L491.8,622.4 L490.4,621.5 L489.5,620.6 L489.5,619.2 L488.8,618.2 L488.3,616.9 L489.0,616.2 L490.4,616.4 L491.5,617.3 L492.9,618.5 L494.3,619.0 L495.7,618.3 L497.1,617.6 L497.6,616.8 L496.0,616.4 L493.9,616.4 L492.5,615.9 L491.5,614.8 L491.6,614.0 L493.2,613.4 L494.8,613.8 L494.4,613.1 L493.6,611.9 L492.2,610.8 L492.5,609.6 L493.9,609.4 L495.5,610.3 L495.8,609.6 L494.4,608.9 L494.1,607.5 L494.8,606.1 L496.0,605.4 L497.8,606.6 L499.5,608.0 L500.4,609.4 L500.2,611.0 L501.6,611.2 L502.7,610.5 L503.5,609.4 L504.4,610.5 L504.4,612.2 L504.4,614.0 L505.8,613.4 L506.5,612.2 L506.7,610.5 L506.7,608.5 L505.1,607.7 L503.0,606.8 L501.3,605.7 L501.1,604.5 L502.3,604.0 L504.4,603.8 L506.2,603.5 L504.8,602.6 L503.0,601.5 L500.9,602.1 L499.2,601.4 L499.9,599.8 L501.3,598.9 L503.4,598.7 L505.5,598.5 L506.9,599.3 L508.3,601.4 L510.4,602.9 L512.1,604.5 L513.9,606.8 L515.3,608.4 L517.0,609.6 L517.7,610.5 L516.3,611.5 L517.7,612.4 L518.6,613.4 L518.4,615.4 L517.9,617.1 L517.0,618.5 L516.0,618.9 L514.6,617.8 L515.6,619.2 L517.0,620.3 L517.7,621.7 L517.4,623.4 L517.0,624.5 L518.4,624.8 L519.5,625.9 L520.2,627.6 L520.5,629.0"/>
</g>
<g class="grid">
<line x1="319.5" y1="358.5" x2="319.5" y2="853.5"/>
<line x1="532.5" y1="358.5" x2="532.5" y2="853.5"/>
<line x1="745.5" y1="358.5" x2="745.5" y2="853.5"/>
<line x1="959.5" y1="358.5" x2="959.5" y2="853.5"/>
<line x1="150.5" y1="414.5" x2="1080.5" y2="414.5"/>
<line x1="150.5" y1="497.5" x2="1080.5" y2="497.5"/>
<line x1="150.5" y1="570.5" x2="1080.5" y2="570.5"/>
<line x1="150.5" y1="636.5" x2="1080.5" y2="636.5"/>
<line x1="150.5" y1="696.5" x2="1080.5" y2="696.5"/>
<line x1="150.5" y1="752.5" x2="1080.5" y2="752.5"/>
<line x1="150.5" y1="803.5" x2="1080.5" y2="803.5"/>
<line x1="150.5" y1="851.5" x2="1080.5" y2="851.5"/>
</g>
<g stroke="#000" fill="none" stroke-linecap="butt" stroke-linejoin="miter">
<path d="M533.3,663.4 L537.9,652 L547.1,652 L551.5,663.4" stroke-width="1.6"/>
<path d="M537.9,652 L535.1,645 M542.5,652 L542.5,644.7 M547.1,652 L549.9,645" stroke-width="1.6"/>
<path d="M533,663.5 H540 M545,663.5 H551.8" stroke-width="2.7"/>
</g>

<rect x="150.5" y="358.5" width="930.0" height="495.0" fill="none" stroke="#000" stroke-width="1"/>
<g class="t14" text-anchor="middle">
<text class="t14" x="319.5" y="347">40°W</text>
<text class="t14" x="319.5" y="875">40°W</text>
<text class="t14" x="532.5" y="347">20°W</text>
<text class="t14" x="532.5" y="875">20°W</text>
<text class="t14" x="745.5" y="347">0°</text>
<text class="t14" x="745.5" y="875">0°</text>
<text class="t14" x="959.5" y="347">20°E</text>
<text class="t14" x="959.5" y="875">20°E</text>
</g>
<g class="t14">
<text class="t14" text-anchor="end" x="143" y="419.0">72.5°N</text>
<text class="t14" text-anchor="start" x="1088" y="419.0">72.5°N</text>
<text class="t14" text-anchor="end" x="143" y="502.0">70°N</text>
<text class="t14" text-anchor="start" x="1088" y="502.0">70°N</text>
<text class="t14" text-anchor="end" x="143" y="575.0">67.5°N</text>
<text class="t14" text-anchor="start" x="1088" y="575.0">67.5°N</text>
<text class="t14" text-anchor="end" x="143" y="641.0">65°N</text>
<text class="t14" text-anchor="start" x="1088" y="641.0">65°N</text>
<text class="t14" text-anchor="end" x="143" y="701.0">62.5°N</text>
<text class="t14" text-anchor="start" x="1088" y="701.0">62.5°N</text>
<text class="t14" text-anchor="end" x="143" y="757.0">60°N</text>
<text class="t14" text-anchor="start" x="1088" y="757.0">60°N</text>
<text class="t14" text-anchor="end" x="143" y="808.0">57.5°N</text>
<text class="t14" text-anchor="start" x="1088" y="808.0">57.5°N</text>
<text class="t14" text-anchor="end" x="143" y="856.0">55°N</text>
<text class="t14" text-anchor="start" x="1088" y="856.0">55°N</text>
</g>
<text class="t10" x="59.8" y="975" textLength="211.6" lengthAdjust="spacing">© Met Office Crown Copyright</text>
</svg>
</body>
</html>
